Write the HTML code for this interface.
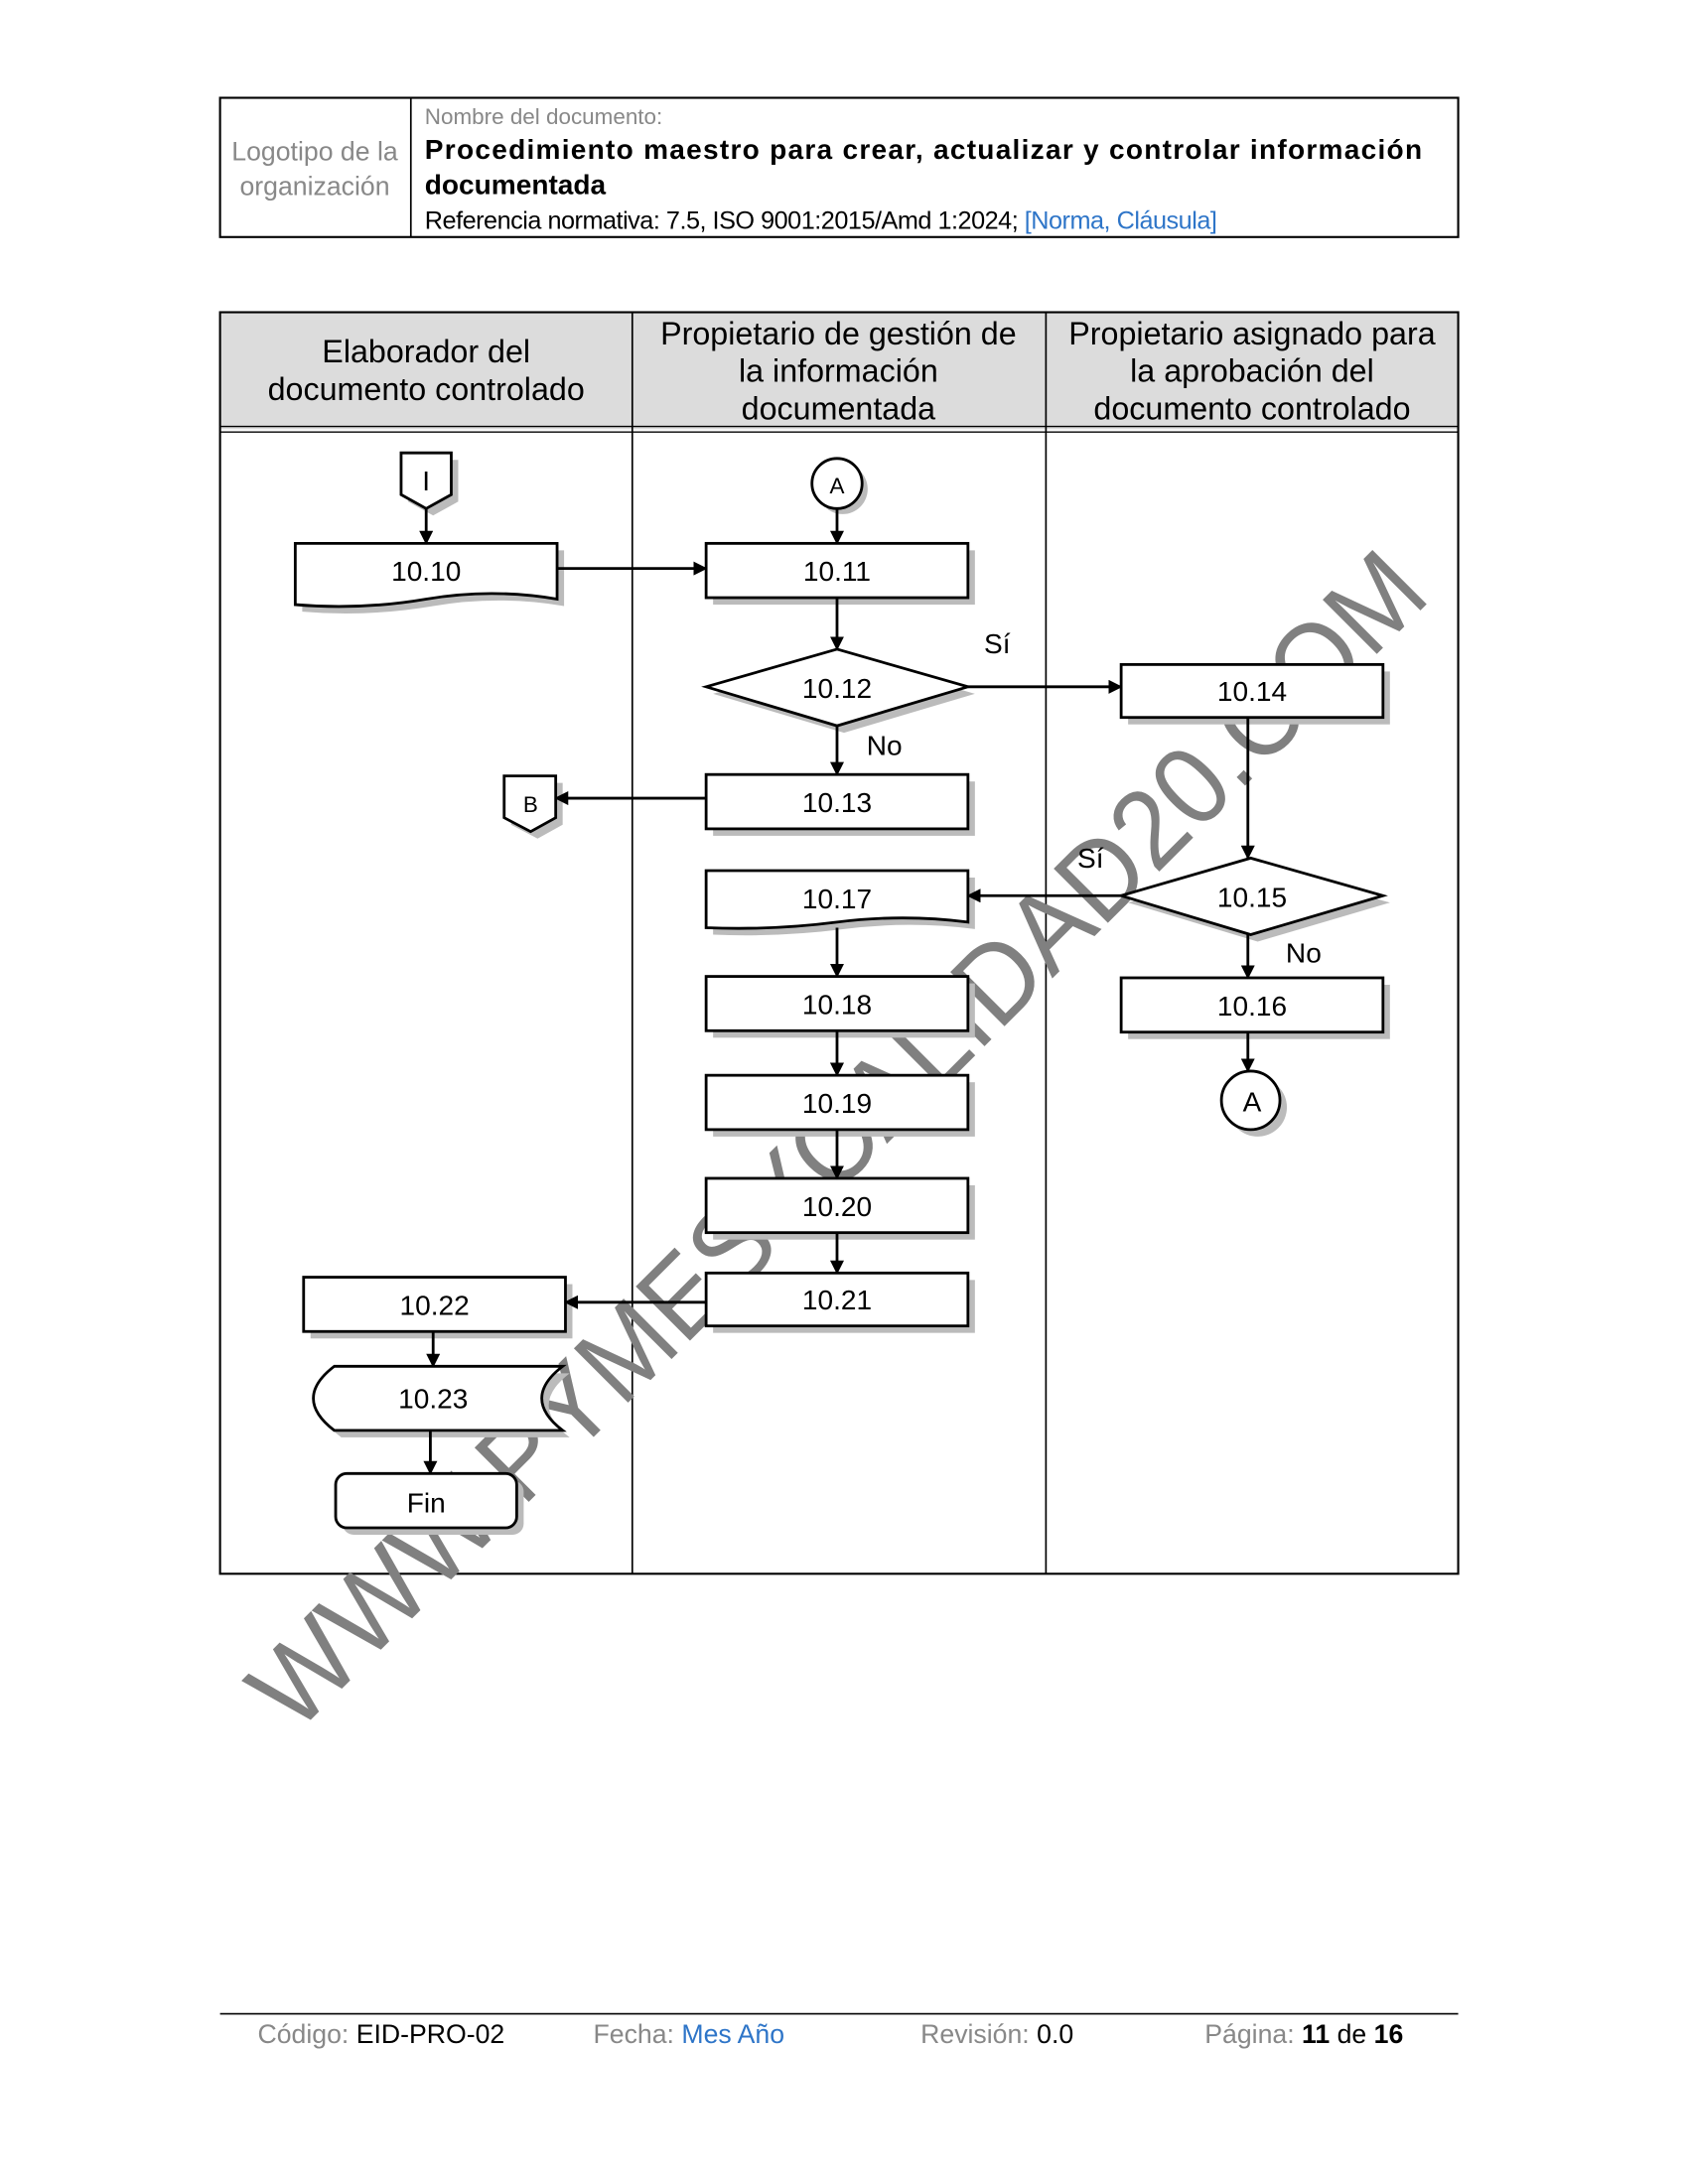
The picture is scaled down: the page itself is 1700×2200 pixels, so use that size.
<!DOCTYPE html>
<html><head><meta charset="utf-8"><style>
html,body{margin:0;padding:0;background:#fff}
svg{display:block}
text{font-family:"Liberation Sans Narrow","Liberation Sans",sans-serif}
.w{font-family:"Liberation Sans",sans-serif}
</style></head><body>
<svg width="1700" height="2200" viewBox="0 0 1212 1568" xmlns="http://www.w3.org/2000/svg">
<defs>
<marker id="ar" markerWidth="10" markerHeight="10" refX="9" refY="5" orient="auto" markerUnits="userSpaceOnUse">
<path d="M0,0 L10,5 L0,10 z" fill="#000"/></marker>
</defs>
<!-- header table -->
<rect x="158" y="70" width="889" height="100" fill="none" stroke="#000" stroke-width="1.5"/>
<line x1="295" y1="70" x2="295" y2="170" stroke="#000" stroke-width="1.2"/>
<text x="226" y="115" font-size="19" fill="#888" text-anchor="middle">Logotipo de la</text>
<text x="226" y="140" font-size="19" fill="#888" text-anchor="middle">organización</text>
<text x="305" y="89" font-size="16" fill="#888">Nombre del documento:</text>
<text x="305" y="114" font-size="20" font-weight="bold" class="w" textLength="716">Procedimiento maestro para crear, actualizar y controlar información</text>
<text x="305" y="139" font-size="20" font-weight="bold" class="w">documentada</text>
<text x="305" y="164" font-size="18" fill="#000" textLength="569">Referencia normativa: 7.5, ISO 9001:2015/Amd 1:2024; <tspan fill="#2e75c8">[Norma, Cláusula]</tspan></text>

<!-- lanes -->
<rect x="158" y="224" width="889" height="84" fill="#dcdcdc"/>
<rect x="158" y="224" width="889" height="906" fill="none" stroke="#000" stroke-width="1.5"/>
<line x1="158" y1="306" x2="1047" y2="306" stroke="#000" stroke-width="1"/>
<line x1="158" y1="310" x2="1047" y2="310" stroke="#000" stroke-width="1"/>
<line x1="454" y1="224" x2="454" y2="1130" stroke="#000" stroke-width="1.2"/>
<line x1="751" y1="224" x2="751" y2="1130" stroke="#000" stroke-width="1.2"/>
<g class="w" font-size="23" text-anchor="middle" fill="#000">
<text x="306" y="260" class="w">Elaborador del</text>
<text x="306" y="287" class="w">documento controlado</text>
<text x="602" y="247" class="w">Propietario de gestión de</text>
<text x="602" y="274" class="w">la información</text>
<text x="602" y="301" class="w">documentada</text>
<text x="899" y="247" class="w">Propietario asignado para</text>
<text x="899" y="274" class="w">la aprobación del</text>
<text x="899" y="301" class="w">documento controlado</text>
</g>

<!-- watermark -->
<text x="0" y="0" class="w" font-size="80" fill="#808080" transform="translate(212,1246) rotate(-45)" textLength="1155" lengthAdjust="spacingAndGlyphs">WWW.PYMESYCALIDAD20.COM</text>

<!-- shadows -->
<g fill="#bbb">
<path d="M293,330 h36 v30 l-18,10 l-18,-10z"/>
<path d="M217,395 h188 v40 q-47,-8 -94,0 t-94,4z"/>
<circle cx="605" cy="351" r="18"/>
<rect x="512" y="395" width="188" height="39"/>
<path d="M512,498 L606,471 L700,498 L606,526z"/>
<rect x="810" y="482" width="188" height="38"/>
<rect x="512" y="561" width="188" height="39"/>
<path d="M367,562 h37 v30 l-18,10 l-19,-10z"/>
<path d="M810,648 L903,621 L998,648 L903,676z"/>
<path d="M512,630 h188 v37 q-47,-6 -94,0 t-94,4z"/>
<rect x="810" y="707" width="188" height="39"/>
<circle cx="903" cy="795" r="21"/>
<rect x="512" y="706" width="188" height="39"/>
<rect x="512" y="777" width="188" height="39"/>
<rect x="512" y="851" width="188" height="39"/>
<rect x="512" y="919" width="188" height="38"/>
<rect x="223" y="922" width="188" height="39"/>
<path d="M245,986 h164 q-30,23 0,46 h-164 q-30,-23 0,-46z"/>
<rect x="246" y="1063" width="130" height="39" rx="8"/>
</g>
<!-- shapes -->
<g fill="#fff" stroke="#000" stroke-width="2">
<path d="M288,325 h36 v30 l-18,10 l-18,-10z"/>
<path d="M212,390 h188 v40 q-47,-8 -94,0 t-94,4z"/>
<circle cx="601" cy="347" r="18"/>
<rect x="507" y="390" width="188" height="39"/>
<path d="M507,493 L601,466 L695,493 L601,521z"/>
<rect x="805" y="477" width="188" height="38"/>
<rect x="507" y="556" width="188" height="39"/>
<path d="M362,557 h37 v30 l-18,10 l-19,-10z"/>
<path d="M805,643 L898,616 L993,643 L898,671z"/>
<path d="M507,625 h188 v37 q-47,-6 -94,0 t-94,4z"/>
<rect x="805" y="702" width="188" height="39"/>
<circle cx="898" cy="790" r="21"/>
<rect x="507" y="701" width="188" height="39"/>
<rect x="507" y="772" width="188" height="39"/>
<rect x="507" y="846" width="188" height="39"/>
<rect x="507" y="914" width="188" height="38"/>
<rect x="218" y="917" width="188" height="39"/>
<path d="M240,981 h164 q-30,23 0,46 h-164 q-30,-23 0,-46z"/>
<rect x="241" y="1058" width="130" height="39" rx="8"/>
</g>
<!-- arrows -->
<g stroke="#000" stroke-width="2" fill="none" marker-end="url(#ar)">
<line x1="306" y1="365" x2="306" y2="390"/>
<line x1="400" y1="408" x2="507" y2="408"/>
<line x1="601" y1="365" x2="601" y2="390"/>
<line x1="601" y1="429" x2="601" y2="466"/>
<line x1="695" y1="493" x2="805" y2="493"/>
<line x1="601" y1="521" x2="601" y2="556"/>
<line x1="507" y1="573" x2="399" y2="573"/>
<line x1="896" y1="515" x2="896" y2="616"/>
<line x1="805" y1="643" x2="695" y2="643"/>
<line x1="896" y1="671" x2="896" y2="702"/>
<line x1="896" y1="741" x2="896" y2="769"/>
<line x1="601" y1="666" x2="601" y2="701"/>
<line x1="601" y1="740" x2="601" y2="772"/>
<line x1="601" y1="811" x2="601" y2="846"/>
<line x1="601" y1="885" x2="601" y2="914"/>
<line x1="507" y1="935" x2="406" y2="935"/>
<line x1="311" y1="956" x2="311" y2="981"/>
<line x1="309" y1="1027" x2="309" y2="1058"/>
</g>
<!-- labels -->
<g font-size="20" text-anchor="middle" fill="#000">
<text x="306" y="352">I</text>
<text x="306" y="417">10.10</text>
<text x="601" y="354" font-size="16">A</text>
<text x="601" y="417">10.11</text>
<text x="601" y="501">10.12</text>
<text x="899" y="503">10.14</text>
<text x="601" y="583">10.13</text>
<text x="381" y="583" font-size="16" class="w">B</text>
<text x="899" y="651">10.15</text>
<text x="601" y="652">10.17</text>
<text x="899" y="729">10.16</text>
<text x="899" y="798">A</text>
<text x="601" y="728">10.18</text>
<text x="601" y="799">10.19</text>
<text x="601" y="873">10.20</text>
<text x="601" y="940">10.21</text>
<text x="312" y="944">10.22</text>
<text x="311" y="1011">10.23</text>
<text x="306" y="1086">Fin</text>
<text x="716" y="469">Sí</text>
<text x="635" y="542">No</text>
<text x="783" y="623">Sí</text>
<text x="936" y="691">No</text>
</g>

<!-- footer -->
<line x1="158" y1="1446" x2="1047" y2="1446" stroke="#000" stroke-width="1.2"/>
<g font-size="19">
<text x="185" y="1467" fill="#888">Código: <tspan fill="#000">EID-PRO-02</tspan></text>
<text x="426" y="1467" fill="#888">Fecha: <tspan fill="#2e75c8">Mes Año</tspan></text>
<text x="661" y="1467" fill="#888">Revisión: <tspan fill="#000">0.0</tspan></text>
<text x="865" y="1467" fill="#888">Página:  <tspan fill="#000" font-weight="bold">11</tspan><tspan fill="#000"> de </tspan><tspan fill="#000" font-weight="bold">16</tspan></text>
</g>
</svg>
</body></html>
